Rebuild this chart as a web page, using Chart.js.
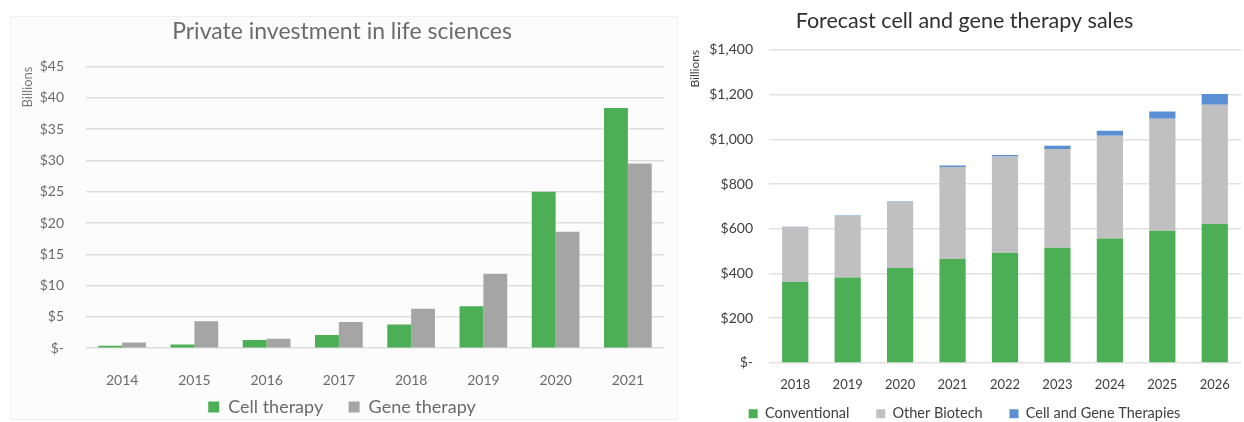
<!DOCTYPE html>
<html>
<head>
<meta charset="utf-8">
<script src="https://cdn.jsdelivr.net/npm/chart.js@4"></script>
<style>
  body { margin: 0; background: #fff; width: 1244px; height: 422px; position: relative; overflow: hidden; }
  #leftFrame { position: absolute; left: 10px; top: 16px; width: 668px; height: 404px; background: #fcfcfc; border: 1px solid #f0f0f0; box-sizing: border-box; }
  #leftBox { position: absolute; left: 10px; top: 16px; width: 668px; height: 410px; }
  #rightBox { position: absolute; left: 680px; top: 0; width: 564px; height: 431px; }
</style>
</head>
<body>
<div id="leftFrame"></div>
<div id="leftBox"><canvas id="investChart"></canvas></div>
<div id="rightBox"><canvas id="salesChart"></canvas></div>
<script>
'use strict';

// private investment, $ billions
const investYears = ['2014', '2015', '2016', '2017', '2018', '2019', '2020', '2021'];
const cellTherapy = [0.4, 0.6, 1.3, 2.1, 3.8, 6.7, 25.0, 38.4];
const geneTherapy = [0.9, 4.3, 1.5, 4.2, 6.3, 11.9, 18.6, 29.5];

// forecast sales, $ billions (stacked)
const salesYears = ['2018', '2019', '2020', '2021', '2022', '2023', '2024', '2025', '2026'];
const conventional = [362, 382, 424, 465, 492, 515, 556, 591, 621];
const otherBiotech = [246, 275, 295, 411, 431, 441, 460, 501, 533];
const cellGene = [1, 2, 3, 7, 7, 15, 22, 32, 48];

const FONT = 'Lato, "Open Sans", sans-serif';
const GREEN = '#4caf55';

const dollar = (v) => (v === 0 ? '$-' : '$' + v.toLocaleString('en-US'));

// extra room between legend entries
const spacedLabels = (chart) => {
  const items = Chart.defaults.plugins.legend.labels.generateLabels(chart);
  return items.map((item, i) => ({ ...item, text: i < items.length - 1 ? item.text + '    ' : item.text }));
};

Chart.defaults.font.family = FONT;
Chart.defaults.animation = false;
Chart.defaults.maintainAspectRatio = false;
Chart.defaults.responsive = true;

new Chart(document.querySelector('#investChart'), {
  type: 'bar',
  data: {
    labels: investYears,
    datasets: [
      { label: 'Cell therapy', data: cellTherapy, backgroundColor: GREEN },
      { label: 'Gene therapy', data: geneTherapy, backgroundColor: '#a5a5a5' },
    ],
  },
  options: {
    layout: { padding: { left: 10, right: 14, top: 0, bottom: 0 } },
    datasets: { bar: { barPercentage: 1, categoryPercentage: 0.66 } },
    scales: {
      x: {
        grid: { display: false, tickLength: 22 },
        border: { display: false },
        ticks: { color: '#6b6b6b', font: { size: 14 }, padding: 2 },
      },
      y: {
        min: 0,
        max: 45,
        ticks: { stepSize: 5, color: '#6b6b6b', font: { size: 14 }, padding: 22, callback: dollar },
        grid: { color: '#dedede', lineWidth: 1.5, drawTicks: false },
        border: { display: false },
        title: { display: true, text: 'Billions', align: 'end', color: '#7a7a7a', font: { size: 13 }, padding: 0 },
        afterFit: (scale) => { scale.width = 66; },
      },
    },
    plugins: {
      title: {
        display: true,
        text: 'Private investment in life sciences',
        color: '#6b6b6b',
        font: { size: 23, weight: 'normal' },
        padding: { top: 2, bottom: 21 },
      },
      legend: {
        position: 'bottom',
        labels: { color: '#6b6b6b', font: { size: 18 }, boxWidth: 11, boxHeight: 11, padding: 7, generateLabels: spacedLabels },
      },
      tooltip: { enabled: false },
    },
  },
});

new Chart(document.querySelector('#salesChart'), {
  type: 'bar',
  data: {
    labels: salesYears,
    datasets: [
      { label: 'Conventional', data: conventional, backgroundColor: GREEN },
      { label: 'Other Biotech', data: otherBiotech, backgroundColor: '#c0c0c0' },
      { label: 'Cell and Gene Therapies', data: cellGene, backgroundColor: '#5b8fd3' },
    ],
  },
  options: {
    layout: { padding: { left: 8, right: 3, top: 0, bottom: 0 } },
    datasets: { bar: { barPercentage: 0.5, categoryPercentage: 1 } },
    scales: {
      x: {
        stacked: true,
        grid: { display: false, tickLength: 12 },
        border: { display: false },
        ticks: { color: '#404040', font: { size: 13 }, padding: 2 },
      },
      y: {
        stacked: true,
        min: 0,
        max: 1400,
        ticks: { stepSize: 200, color: '#404040', font: { size: 14 }, padding: 16, callback: dollar },
        grid: { color: '#e2e2e2', lineWidth: 1.5, drawTicks: false },
        border: { display: false },
        title: { display: true, text: 'Billions', align: 'end', color: '#404040', font: { size: 12 }, padding: 0 },
        afterFit: (scale) => { scale.width = 81; },
      },
    },
    plugins: {
      title: {
        display: true,
        text: 'Forecast cell and gene therapy sales',
        color: '#303030',
        font: { size: 21.5, weight: 'normal' },
        padding: { top: 8, bottom: 16 },
      },
      legend: {
        position: 'bottom',
        labels: { color: '#404040', font: { size: 14.5 }, boxWidth: 9, boxHeight: 9, padding: 12, generateLabels: spacedLabels },
      },
      tooltip: { enabled: false },
    },
  },
});
</script>
</body>
</html>
